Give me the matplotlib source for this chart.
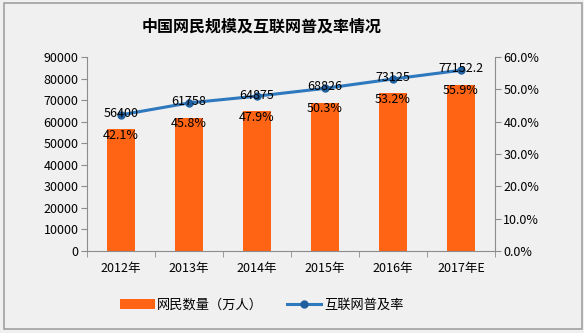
import matplotlib
matplotlib.use("Agg")
import matplotlib.pyplot as plt
from matplotlib.patches import Rectangle
from matplotlib.ticker import FuncFormatter, MultipleLocator

plt.rcParams['font.family'] = ['Noto Sans CJK SC', 'DejaVu Sans']

years = ['2012年', '2013年', '2014年', '2015年', '2016年', '2017年E']
users = [56400, 61758, 64875, 68826, 73125, 77152.2]
user_labels = ['56400', '61758', '64875', '68826', '73125', '77152.2']
rate = [42.1, 45.8, 47.9, 50.3, 53.2, 55.9]

bg = '#f0f0f0'
orange = '#ff6414'
blue = '#2e78bd'
axc = '#8c8c8c'

fig = plt.figure(figsize=(5.84, 3.33), dpi=100, facecolor=bg)
fig.patches.append(Rectangle((4/584, 4/333), 578/584, 326/333, transform=fig.transFigure,
                             fill=False, edgecolor='#a0a0a0', lw=1.2))

ax = fig.add_axes([87/584, 1 - 251/333, (495-87)/584, (251-57)/333])
ax.set_facecolor('none')
x = list(range(len(years)))
ax.bar(x, users, width=0.41, color=orange, zorder=2, label='网民数量（万人）')
ax.set_xlim(-0.5, len(years) - 0.5)
ax.set_ylim(0, 90000)
ax.yaxis.set_major_locator(MultipleLocator(10000))
ax.set_xticks(x)
ax.set_xticklabels(years, fontsize=9)
ax.set_xticks([i - 0.5 for i in range(len(years) + 1)], minor=True)
ax.tick_params(axis='x', which='major', length=0, pad=8)
ax.tick_params(axis='x', which='minor', length=4, color=axc, direction='out')
ax.tick_params(axis='y', length=4, color=axc, labelsize=9, pad=2)
for s in ['top', 'right']:
    ax.spines[s].set_visible(False)
ax.spines['left'].set_color(axc)
ax.spines['bottom'].set_color(axc)

ax2 = ax.twinx()
ax2.plot(x, rate, color=blue, lw=2.2, marker='o', ms=5, mfc='#1f5f9e', mec='#1f5f9e',
         zorder=3, label='互联网普及率')
ax2.set_ylim(0, 60)
ax2.yaxis.set_major_locator(MultipleLocator(10))
ax2.yaxis.set_major_formatter(FuncFormatter(lambda v, p: '%.1f%%' % v))
ax2.tick_params(axis='y', length=4, color=axc, labelsize=9, pad=2)
for s in ['top', 'left', 'bottom']:
    ax2.spines[s].set_visible(False)
ax2.spines['right'].set_color(axc)

for i in x:
    ax2.annotate(user_labels[i], xy=(i, users[i] / 1500), xytext=(0, 16),
                 textcoords='offset pixels', ha='center', va='center', fontsize=9, zorder=5)
    ax2.annotate('%.1f%%' % rate[i], xy=(i, users[i] / 1500), xytext=(0, -6),
                 textcoords='offset pixels', ha='center', va='center', fontsize=9, zorder=5)

fig.text(262/584, 1 - 27/333, '中国网民规模及互联网普及率情况', ha='center', va='center',
         fontsize=11.5, fontweight='bold')

h1, l1 = ax.get_legend_handles_labels()
h2, l2 = ax2.get_legend_handles_labels()
fig.legend(h1 + h2, l1 + l2, loc='center', bbox_to_anchor=(262/584, 1 - 305/333), ncol=2,
           frameon=False, fontsize=9.5, handlelength=2.6, columnspacing=1.8, handletextpad=0.2)

fig.savefig('out.png', dpi=100, facecolor=bg)
